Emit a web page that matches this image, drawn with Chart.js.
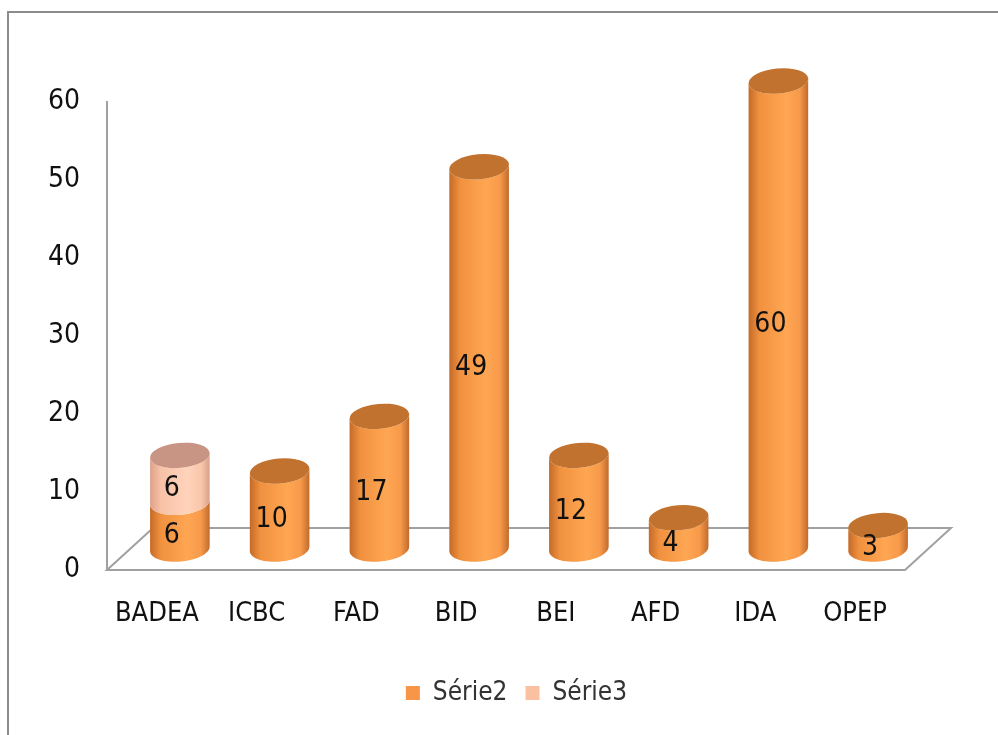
<!DOCTYPE html>
<html>
<head>
<meta charset="utf-8">
<script src="https://cdn.jsdelivr.net/npm/chart.js@4"></script>
<style>
  body { margin: 0; background: #fff; }
  #frame { position: absolute; left: 7px; top: 11px; width: 1000px; height: 800px;
           border-top: 2px solid #8c8c8c; border-left: 2px solid #8c8c8c; }
  #wrap { position: absolute; left: 0; top: 0; width: 998px; height: 735px; }
</style>
</head>
<body>
<div id="frame"></div>
<div id="wrap"><canvas id="cylChart"></canvas></div>
<script>
var labels = ["BADEA", "ICBC", "FAD", "BID", "BEI", "AFD", "IDA", "OPEP"];
var serie2 = [6, 10, 17, 49, 12, 4, 60, 3];
var serie3 = [6, null, null, null, null, null, null, null];
var yTicks = [0, 10, 20, 30, 40, 50, 60];

var FONT = "'Liberation Sans Narrow', 'DejaVu Sans Condensed', 'Liberation Sans', sans-serif";
var DEPTH_X = 23, DEPTH_Y = 21;

var palette = [
  { side: ["#c46a28", "#f0913f", "#ffa653", "#f79a4a", "#c06a2c"], top: "#c2722f", legend: "#f79646" },
  { side: ["#dca08a", "#f7c2a6", "#ffd3bb", "#f9c7ab", "#d8a08a"], top: "#c89484", legend: "#fac0a0" }
];

function cylinderPath(ctx, cx, topY, baseY, rx, ry, rot) {
  var c = Math.cos(rot), s = Math.sin(rot);
  ctx.beginPath();
  ctx.moveTo(cx - rx * c, topY - rx * s);
  ctx.lineTo(cx - rx * c, baseY - rx * s);
  ctx.ellipse(cx, baseY, rx, ry, rot, Math.PI, 0, true);
  ctx.lineTo(cx + rx * c, topY + rx * s);
  ctx.ellipse(cx, topY, rx, ry, rot, 0, Math.PI, false);
  ctx.closePath();
}

var cylinders = {
  id: 'cylinders',
  afterLayout: function (chart) {
    // legend sits a bit right of the plot centre in the original
    chart.legend.left += 64;
    chart.legend.right += 64;
  },
  beforeDatasetsDraw: function (chart) {
    var ctx = chart.ctx, area = chart.chartArea;
    ctx.save();
    // floor
    ctx.strokeStyle = "#a0a0a0";
    ctx.lineWidth = 2;
    ctx.beginPath();
    ctx.moveTo(area.left, area.bottom);
    ctx.lineTo(area.right, area.bottom);
    ctx.lineTo(area.right + DEPTH_X * 2, area.bottom - DEPTH_Y * 2);
    ctx.lineTo(area.left + DEPTH_X * 2, area.bottom - DEPTH_Y * 2);
    ctx.closePath();
    ctx.stroke();

    var rot = -0.09;
    var n = chart.data.labels.length;
    for (var i = 0; i < n; i++) {
      var topDs = -1;
      chart.data.datasets.forEach(function (ds, d) { if (ds.data[i]) topDs = d; });
      chart.data.datasets.forEach(function (ds, d) {
        var el = chart.getDatasetMeta(d).data[i];
        if (!el || !ds.data[i]) return;
        var p = palette[d];
        var cx = el.x + DEPTH_X, topY = el.y - DEPTH_Y, baseY = el.base - DEPTH_Y;
        var rx = el.width / 2, ry = 12.5;
        var g = ctx.createLinearGradient(cx - rx, 0, cx + rx, 0);
        g.addColorStop(0, p.side[0]);
        g.addColorStop(0.18, p.side[1]);
        g.addColorStop(0.62, p.side[2]);
        g.addColorStop(0.85, p.side[3]);
        g.addColorStop(1, p.side[4]);
        cylinderPath(ctx, cx, topY, baseY, rx, ry, rot);
        ctx.fillStyle = g;
        ctx.fill();
        if (d === topDs) {
          ctx.beginPath();
          ctx.ellipse(cx, topY, rx, ry, rot, 0, Math.PI * 2);
          ctx.fillStyle = p.top;
          ctx.fill();
        }
        ctx.fillStyle = "#111";
        ctx.font = "28px " + FONT;
        ctx.textAlign = "center";
        ctx.textBaseline = "middle";
        ctx.fillText(String(ds.data[i]), cx - 8, (topY + baseY) / 2 + 10);
      });
    }
    ctx.restore();
    return false;
  }
};

new Chart(document.getElementById('cylChart'), {
  type: 'bar',
  data: {
    labels: labels,
    datasets: [
      { label: 'Série2', data: serie2, backgroundColor: palette[0].legend },
      { label: 'Série3', data: serie3, backgroundColor: palette[1].legend }
    ]
  },
  options: {
    responsive: true,
    maintainAspectRatio: false,
    animation: false,
    layout: { padding: { top: 102, right: 93, left: 0, bottom: 19 } },
    datasets: { bar: { categoryPercentage: 1, barPercentage: 0.6 } },
    plugins: {
      tooltip: { enabled: false },
      legend: {
        position: 'bottom',
        labels: {
          boxWidth: 14, boxHeight: 14, padding: 18, color: '#333',
          font: { size: 26, family: FONT }
        }
      }
    },
    scales: {
      x: {
        stacked: true,
        grid: { display: false, drawTicks: false },
        border: { display: false },
        ticks: { color: '#111', padding: 28, font: { size: 27, family: FONT } },
        afterFit: function (s) { s.height = 92; }
      },
      y: {
        stacked: true,
        min: 0, max: 60,
        afterBuildTicks: function (s) { s.ticks = yTicks.map(function (v) { return { value: v }; }); },
        grid: { display: false, drawTicks: false },
        border: { display: true, color: '#a0a0a0', width: 2 },
        ticks: { color: '#111', padding: 27, font: { size: 28, family: FONT } },
        afterFit: function (s) { s.width = 107; }
      }
    }
  },
  plugins: [cylinders]
});
</script>
</body>
</html>
